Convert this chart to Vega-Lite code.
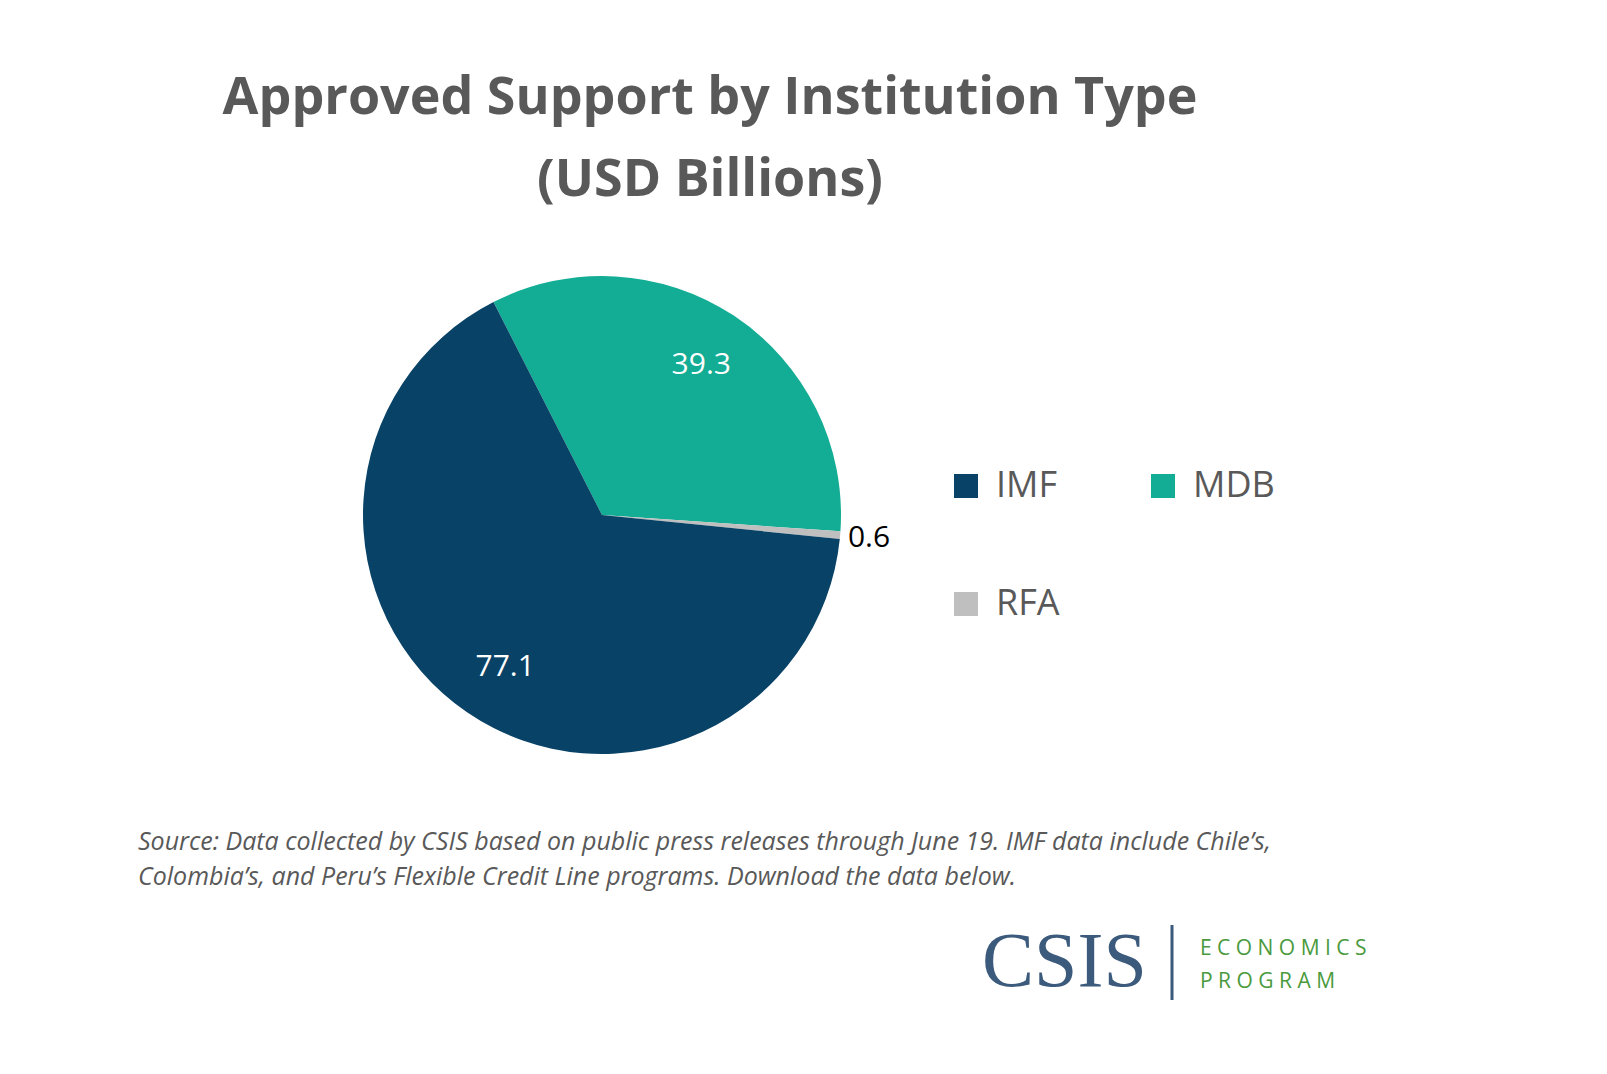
{
  "$schema": "https://vega.github.io/schema/vega-lite/v6.json",
  "width": 1607,
  "height": 1074,
  "autosize": "none",
  "padding": 0,
  "background": "white",
  "config": {"view": {"stroke": null}, "font": "Open Sans"},
  "data": {"values": [
    {"type": "MDB", "value": 39.3, "order": 1},
    {"type": "RFA", "value": 0.6, "order": 2},
    {"type": "IMF", "value": 77.1, "order": 3}
  ]},
  "layer": [
    {
      "mark": {"type": "arc", "x": 602, "y": 515, "outerRadius": 239},
      "encoding": {
        "theta": {"field": "value", "type": "quantitative", "stack": true, "scale": {"range": [5.812, 12.095]}},
        "order": {"field": "order"},
        "color": {
          "field": "type", "type": "nominal", "title": null,
          "scale": {"domain": ["IMF", "RFA", "MDB"], "range": ["#084266", "#bfbfbf", "#13ac94"]},
          "legend": {
            "orient": "none", "legendX": 948, "legendY": 468, "columns": 2,
            "columnPadding": 85, "rowPadding": 82, "symbolType": "square",
            "symbolSize": 576, "symbolStrokeWidth": 0, "labelFontSize": 36,
            "labelColor": "#595959", "labelFont": "Open Sans", "labelOffset": 12
          }
        }
      }
    },
    {
      "transform": [{"filter": "datum.type != 'RFA'"}],
      "mark": {"type": "text", "x": 602, "y": 515, "radius": 180, "fontSize": 30, "color": "white"},
      "encoding": {
        "theta": {"field": "value", "type": "quantitative", "stack": true, "scale": {"range": [5.812, 12.095]}},
        "order": {"field": "order"},
        "text": {"field": "value", "type": "quantitative", "format": ".1f"}
      }
    },
    {
      "mark": {"type": "text", "x": 602, "y": 515, "radius": 268, "fontSize": 30, "color": "black"},
      "encoding": {
        "theta": {"field": "value", "type": "quantitative", "stack": true, "scale": {"range": [5.812, 12.095]}},
        "order": {"field": "order"},
        "text": {"condition": {"test": "datum.type == 'RFA'", "field": "value", "format": ".1f"}, "value": ""}
      }
    },
    {
      "data": {"values": [
        {"t": "Approved Support by Institution Type", "y": 98},
        {"t": "(USD Billions)", "y": 180}
      ]},
      "mark": {"type": "text", "x": 710, "fontSize": 52, "fontWeight": "bold", "color": "#595959", "baseline": "middle"},
      "encoding": {"y": {"field": "y", "type": "quantitative", "scale": null}, "text": {"field": "t"}}
    },
    {
      "data": {"values": [
        {"t": "Source: Data collected by CSIS based on public press releases through June 19. IMF data include Chile’s,", "y": 842},
        {"t": "Colombia’s, and Peru’s Flexible Credit Line programs. Download the data below.", "y": 877}
      ]},
      "mark": {"type": "text", "x": 138, "align": "left", "fontSize": 25, "fontStyle": "italic", "color": "#595959", "baseline": "middle"},
      "encoding": {"y": {"field": "y", "type": "quantitative", "scale": null}, "text": {"field": "t"}}
    },
    {
      "data": {"values": [{"t": "CSIS"}]},
      "mark": {"type": "text", "x": 982, "y": 963, "align": "left", "baseline": "middle", "font": "Liberation Serif", "fontSize": 78, "color": "#3b5a7c"},
      "encoding": {"text": {"field": "t"}}
    },
    {
      "data": {"values": [{"y": 925, "y2": 1000}]},
      "mark": {"type": "rule", "strokeWidth": 3, "color": "#3b5a7c"},
      "encoding": {
        "x": {"value": 1172},
        "y": {"field": "y", "type": "quantitative", "scale": null},
        "y2": {"field": "y2"}
      }
    },
    {
      "data": {"values": [
        {"t": "E C O N O M I C S", "y": 949},
        {"t": "P R O G R A M", "y": 982}
      ]},
      "mark": {"type": "text", "x": 1200, "align": "left", "fontSize": 21, "color": "#4a9a3d", "baseline": "middle"},
      "encoding": {"y": {"field": "y", "type": "quantitative", "scale": null}, "text": {"field": "t"}}
    }
  ]
}
